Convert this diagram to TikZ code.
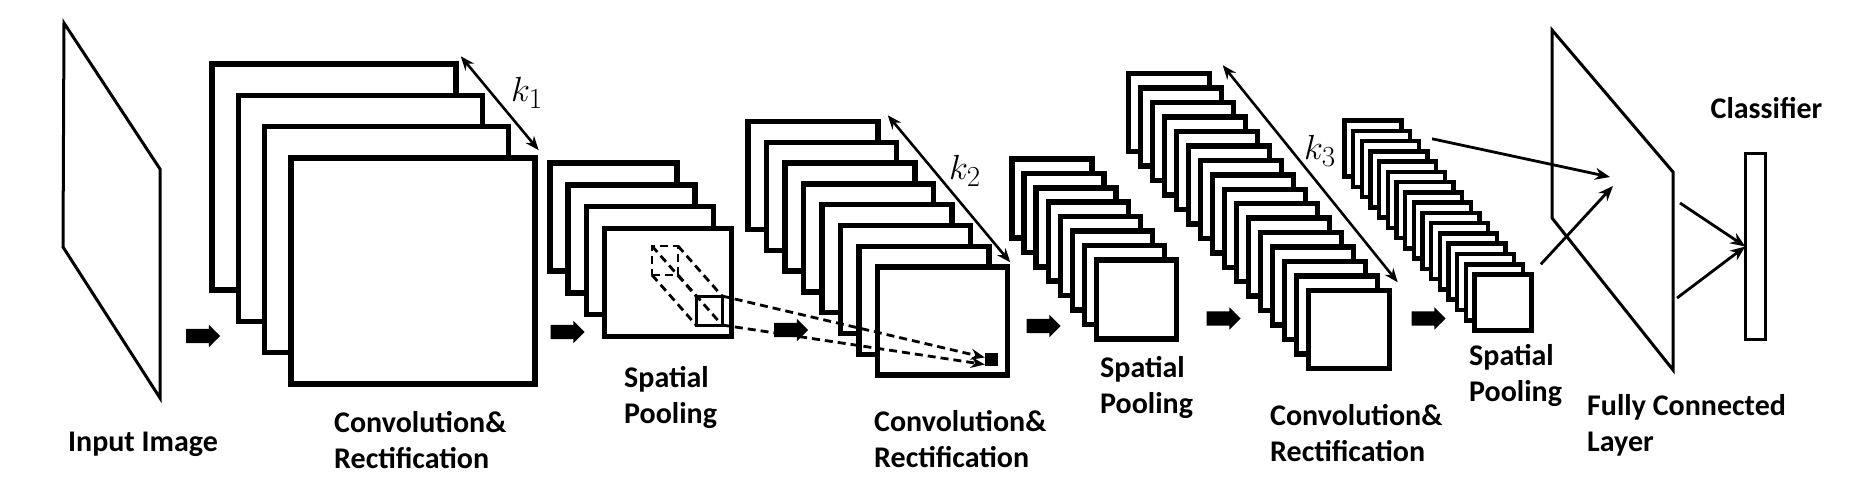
\documentclass[tikz,border=0pt]{standalone}
\usepackage{amsmath}
\usepackage{fontspec}
\setmainfont{Carlito}
\usetikzlibrary{arrows.meta,shapes.arrows}

\tikzset{
  fmap/.style={draw, fill=white, line width=5.5pt, inner sep=0pt},
  win/.style={draw, line width=3pt, inner sep=0pt, outer sep=0pt},
  plane/.style={line width=3pt, line join=miter},
  blockarrow/.style={single arrow, fill=black, draw=none, inner sep=7pt,
    minimum height=34pt, single arrow head extend=4pt},
  link/.style={line width=2.8pt, -{Stealth[length=15pt,width=12pt]}},
  karrow/.style={line width=2.6pt,
    {Stealth[length=14pt,width=11pt]}-{Stealth[length=14pt,width=11pt]}},
  dashlink/.style={line width=2.8pt, dash pattern=on 8pt off 5pt},
  lbl/.style={font=\fontsize{30}{36}\selectfont\bfseries, align=left,
    inner sep=0pt, anchor=west},
  klbl/.style={font=\fontsize{28}{30}\selectfont, inner sep=0pt, scale=1.4}
}

\begin{document}
\begin{tikzpicture}[x=1pt, y=-1pt]

      \path[fill=white, use as bounding box] (0,0) rectangle (1870,500);

      % input image
      \draw[plane] (64,23) -- (160,169) -- (160,398) -- (63,247) -- cycle;

      % feature map stacks, back to front
      \foreach \i in {1,...,4}
        \node[fmap, minimum width=244pt, minimum height=226pt] (conv1-\i)
          at ({334+26.3*(\i-1)},{177+31.3*(\i-1)}) {};
      \foreach \i in {1,...,4}
        \node[fmap, minimum width=127pt, minimum height=108pt] (pool1-\i)
          at ({613.5+18.2*(\i-1)},{217+21.8*(\i-1)}) {};
      \foreach \i in {1,...,8}
        \node[fmap, minimum width=130pt, minimum height=108pt] (conv2-\i)
          at ({813+18.5*(\i-1)},{175.5+20.8*(\i-1)}) {};
      \foreach \i in {1,...,8}
        \node[fmap, minimum width=80pt, minimum height=79pt] (pool2-\i)
          at ({1052+12.1*(\i-1)},{198.5+14.4*(\i-1)}) {};
      \foreach \i in {1,...,16}
        \node[fmap, minimum width=81pt, minimum height=78pt] (conv3-\i)
          at ({1169+12*(\i-1)},{112.5+14.47*(\i-1)}) {};
      \foreach \i in {1,...,16}
        \node[fmap, line width=4.5pt, minimum width=57pt, minimum height=56pt] (pool3-\i)
          at ({1373+8.67*(\i-1)},{148.5+10.27*(\i-1)}) {};

      % depth arrows
      \draw[karrow] ([shift={(2,-5)}]conv1-1.north east) -- ([shift={(1,-5)}]conv1-4.north east);
      \draw[karrow] ([shift={(7,-3.5)}]conv2-1.north east) -- ([shift={(0,-2)}]conv2-8.north east);
      \draw[karrow] ([shift={(10.5,-5.5)}]conv3-1.north east) -- ([shift={(5.5,-5.5)}]conv3-16.north east);
      \node[klbl] (k1) at (527,93) {$k_1$};
      \node[klbl] (k2) at (965,171) {$k_2$};
      \node[klbl] (k3) at (1320,151) {$k_3$};

      % pooling window
      \node[win, dash pattern=on 8pt off 5pt, line width=2.8pt,
        minimum width=26pt, minimum height=29pt] (back) at (665,260.5) {};
      \node[win, minimum width=26pt, minimum height=29pt] (front) at (709,310.5) {};
      \draw[dashlink] (back.north west) -- (front.north west);
      \draw[dashlink] (back.north east) -- (front.north east);
      \draw[dashlink] (back.south west) -- (front.south west);
      \draw[dashlink] (back.south east) -- (front.south east);

      \node[fill=black, minimum size=13pt, inner sep=0pt] (pix) at (991.5,359.5) {};
      \draw[dashlink, -{Stealth[length=14pt,width=11pt]}] (front.north east) -- ([shift={(0,-2)}]pix.west);
      \draw[dashlink, -{Stealth[length=14pt,width=11pt]}] (front.south east) -- ([shift={(0,5)}]pix.west);

      % flow arrows
      \node[blockarrow] (a1) at (199.5,336) {};
      \node[blockarrow] (a2) at (564,332) {};
      \node[blockarrow] (a3) at (787.5,330) {};
      \node[blockarrow] (a4) at (1040,326) {};
      \node[blockarrow] (a5) at (1220,318.5) {};
      \node[blockarrow] (a6) at (1425,318.5) {};

      % fully connected layer and classifier
      \draw[plane] (1552,30) -- (1673,172) -- (1673,370) -- (1552,218) -- cycle;
      \coordinate (fc-in1) at (1610,177);
      \coordinate (fc-in2) at (1613,186);
      \coordinate (fc-out1) at (1680,203);
      \coordinate (fc-out2) at (1677,298);
      \node[win, minimum width=20.5pt, minimum height=186.5pt] (cls) at (1755.5,246.5) {};

      \draw[link] ([shift={(11,0)}]pool3-3.north east) -- (fc-in1);
      \draw[link] ([shift={(7,-8)}]pool3-16.north east) -- (fc-in2);
      \draw[link] (fc-out1) -- (cls.west);
      \draw[link] (fc-out2) -- (cls.west);

      % labels
      \node[lbl, anchor=center] (in-lbl) at (143,444) {Input Image};
      \node[lbl] (conv1-lbl) at (334,440.5) {Convolution\&\\Rectification};
      \node[lbl] (pool1-lbl) at (624,397) {Spatial\\Pooling};
      \node[lbl] (conv2-lbl) at (874,439) {Convolution\&\\Rectification};
      \node[lbl] (pool2-lbl) at (1100,387.5) {Spatial\\Pooling};
      \node[lbl] (conv3-lbl) at (1270,433) {Convolution\&\\Rectification};
      \node[lbl] (pool3-lbl) at (1469,375.5) {Spatial\\Pooling};
      \node[lbl] (fc-lbl) at (1587,425) {Fully Connected\\Layer};
      \node[lbl, anchor=center] (cls-lbl) at (1766.5,108) {Classifier};

    \end{tikzpicture}
\end{document}
